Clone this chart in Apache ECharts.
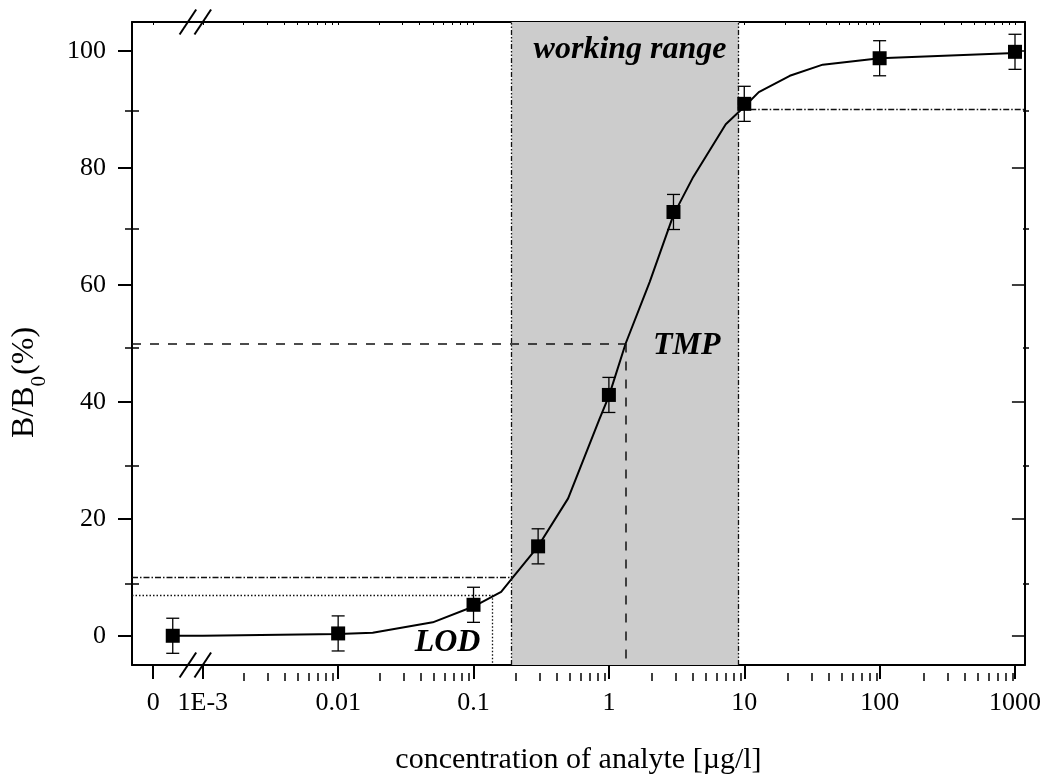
<!DOCTYPE html>
<html><head><meta charset="utf-8">
<script src="https://cdn.jsdelivr.net/npm/echarts@6/dist/echarts.min.js"></script>
<style>html,body{margin:0;padding:0;background:#fff}#c{width:1044px;height:780px}</style>
</head><body><div id="c"></div>
<script>
// ---------- data ----------
const standardConc = [0, 0.01, 0.1, 0.3, 1, 3, 10, 100, 1000];
const standardResp = [0, 0.4, 5.3, 15.3, 41.2, 72.5, 91, 98.8, 99.9];
const standardErr  = [3, 3, 3, 3, 3, 3, 3, 3, 3];
const fitConc = [0, 0.001, 0.01, 0.018, 0.05, 0.1, 0.16, 0.2, 0.3, 0.5, 0.85, 1, 1.33, 2, 3, 4.2, 7.3, 10, 12.8, 21.7, 38, 100, 1000];
const fitResp = [0, 0, 0.3, 0.5, 2.3, 5.0, 7.5, 10.3, 15.3, 23.5, 37, 41, 50, 60.5, 72, 78.5, 87.5, 90.5, 93, 95.8, 97.7, 98.8, 99.7];
const xTickConc   = [0, 0.001, 0.01, 0.1, 1, 10, 100, 1000];
const xTickLabels = ['0', '1E-3', '0.01', '0.1', '1', '10', '100', '1000'];
const yTickValues  = [0, 20, 40, 60, 80, 100];
const yMinorValues = [10, 30, 50, 70, 90];
const LOD_CONC = 0.138, TMP_CONC = 1.334, WR_LOW = 0.191, WR_HIGH = 9.1;
const LOD_LEVEL = 7, WR_LOW_LEVEL = 10, TMP_LEVEL = 50, WR_HIGH_LEVEL = 90;
// broken axis: where the "zero" standard and the "0" tick sit
const ZERO_POINT_POS = 6.0e-4, ZERO_TICK_POS = 4.3e-4;
const X_MIN = 3.0e-4, X_MAX = 1184, Y_MIN = -5, Y_MAX = 105;

const FONT = '"Liberation Serif", "Times New Roman", serif';
const L = (c, z) => Math.log10(c === 0 ? (z || ZERO_POINT_POS) : c);
const xMin = L(X_MIN), xMax = L(X_MAX);

const majorX = xTickConc.map(c => L(c, ZERO_TICK_POS));
const minorX = [];
for (let n = -3; n <= 2; n++) for (let k = 2; k <= 9; k++) minorX.push(Math.log10(k * Math.pow(10, n)));

const chart = echarts.init(document.getElementById('c'), null, {renderer: 'canvas'});
const gridBox = {left: 132, right: 15, top: 22, bottom: 107};
const blk = '#000';

function xAx(grid, pos, extra) {
  return Object.assign({type: 'value', gridIndex: grid, position: pos, min: xMin, max: xMax,
    splitLine: {show: false}, axisLabel: {show: false}, axisLine: {show: false, onZero: false},
    axisTick: {show: false}}, extra);
}
function yAx(grid, pos, extra) {
  return Object.assign({type: 'value', gridIndex: grid, position: pos, min: Y_MIN, max: Y_MAX,
    splitLine: {show: false}, axisLabel: {show: false}, axisLine: {show: false, onZero: false},
    axisTick: {show: false}}, extra);
}

const option = {
  animation: false,
  backgroundColor: '#fff',
  grid: [Object.assign({}, gridBox), Object.assign({}, gridBox), Object.assign({}, gridBox)],
  xAxis: [
    xAx(0, 'bottom', {
      axisLine: {show: true, onZero: false, lineStyle: {color: blk, width: 2}},
      axisTick: {show: true, customValues: majorX, length: 14, lineStyle: {color: blk, width: 2}},
      axisLabel: {show: true, customValues: majorX, margin: 25, color: blk, fontSize: 26, fontFamily: FONT,
        formatter: v => { const i = majorX.findIndex(m => Math.abs(m - v) < 1e-6); return i >= 0 ? xTickLabels[i] : ''; }},
      name: 'concentration of analyte [\u00b5g/l]', nameLocation: 'middle', nameGap: 80,
      nameTextStyle: {color: blk, fontSize: 30, fontFamily: FONT}
    }),
    xAx(0, 'top', {
      axisLine: {show: true, onZero: false, lineStyle: {color: blk, width: 2}},
      axisTick: {show: true, inside: true, customValues: majorX.concat(minorX), length: 3, lineStyle: {color: blk, width: 1}}
    }),
    xAx(1, 'bottom', {axisTick: {show: true, customValues: minorX, length: 8, lineStyle: {color: blk, width: 1.5}}}),
    xAx(2, 'bottom', {})
  ],
  yAxis: [
    yAx(0, 'left', {
      axisLine: {show: true, onZero: false, lineStyle: {color: blk, width: 2}},
      axisTick: {show: true, customValues: yTickValues, length: 14, lineStyle: {color: blk, width: 2}},
      axisLabel: {show: true, customValues: yTickValues, margin: 26, color: blk, fontSize: 26, fontFamily: FONT}
    }),
    yAx(0, 'right', {
      axisLine: {show: true, onZero: false, lineStyle: {color: blk, width: 2}},
      axisTick: {show: true, inside: true, customValues: yTickValues, length: 13, lineStyle: {color: blk, width: 1.5}}
    }),
    yAx(1, 'left', {axisTick: {show: true, customValues: yMinorValues, length: 7, lineStyle: {color: blk, width: 1.5}}}),
    yAx(1, 'right', {axisTick: {show: true, inside: true, customValues: yMinorValues, length: 6, lineStyle: {color: blk, width: 1.5}}}),
    yAx(2, 'left', {axisTick: {show: true, inside: true, customValues: yMinorValues, length: 7, lineStyle: {color: blk, width: 1.5}}})
  ],
  series: [
    { // working range shading + reference lines
      type: 'line', xAxisIndex: 0, yAxisIndex: 0, data: [], z: 1, silent: true,
      markArea: {silent: true, itemStyle: {color: '#cccccc', opacity: 1},
        data: [[{xAxis: L(WR_LOW)}, {xAxis: L(WR_HIGH)}]]},
      markLine: {silent: true, symbol: ['none', 'none'], label: {show: false}, emphasis: {disabled: true},
        lineStyle: {color: blk, width: 1.3},
        data: [
          [{coord: [L(WR_LOW), Y_MIN], lineStyle: {type: [5, 2, 1.5, 2, 1.5, 2], width: 1.3, color: '#111'}}, {coord: [L(WR_LOW), Y_MAX]}],
          [{coord: [L(WR_HIGH), Y_MIN], lineStyle: {type: [5, 2, 1.5, 2, 1.5, 2], width: 1.3, color: '#111'}}, {coord: [L(WR_HIGH), Y_MAX]}],
          [{coord: [xMin, WR_LOW_LEVEL], lineStyle: {type: [6, 2, 1.5, 2], width: 1.3, color: '#111'}}, {coord: [L(WR_LOW), WR_LOW_LEVEL]}],
          [{coord: [L(WR_HIGH), WR_HIGH_LEVEL], lineStyle: {type: [6, 2, 1.5, 2], width: 1.3, color: '#111'}}, {coord: [xMax, WR_HIGH_LEVEL]}],
          [{coord: [xMin, LOD_LEVEL], lineStyle: {type: [1.5, 2], width: 1.3, color: '#111'}}, {coord: [L(LOD_CONC), LOD_LEVEL]}],
          [{coord: [L(LOD_CONC), LOD_LEVEL], lineStyle: {type: [1.5, 2], width: 1.3, color: '#111'}}, {coord: [L(LOD_CONC), Y_MIN]}],
          [{coord: [xMin, TMP_LEVEL], lineStyle: {type: [9, 9], width: 1.5, color: '#111'}}, {coord: [L(TMP_CONC), TMP_LEVEL]}],
          [{coord: [L(TMP_CONC), TMP_LEVEL], lineStyle: {type: [9, 9], width: 1.5, color: '#111'}}, {coord: [L(TMP_CONC), Y_MIN]}]
        ]}
    },
    { // fitted curve
      type: 'line', xAxisIndex: 0, yAxisIndex: 0, z: 3, silent: true,
      data: fitConc.map((c, i) => [L(c), fitResp[i]]),
      showSymbol: false, symbol: 'none', lineStyle: {color: blk, width: 2}
    },
    { // error bars
      type: 'custom', xAxisIndex: 0, yAxisIndex: 0, z: 4, silent: true,
      data: standardConc.map((c, i) => [L(c), standardResp[i], standardErr[i]]),
      renderItem: (params, api) => {
        const x = api.value(0), y = api.value(1), e = api.value(2);
        const t = api.coord([x, y + e]), b = api.coord([x, y - e]);
        const hw = 6.5, st = {stroke: '#000', lineWidth: 1.3};
        return {type: 'group', children: [
          {type: 'line', shape: {x1: t[0], y1: t[1], x2: b[0], y2: b[1]}, style: st},
          {type: 'line', shape: {x1: t[0] - hw, y1: t[1], x2: t[0] + hw, y2: t[1]}, style: st},
          {type: 'line', shape: {x1: b[0] - hw, y1: b[1], x2: b[0] + hw, y2: b[1]}, style: st}
        ]};
      }
    },
    { // standards
      type: 'scatter', xAxisIndex: 0, yAxisIndex: 0, z: 5, silent: true,
      data: standardConc.map((c, i) => [L(c), standardResp[i]]),
      symbol: 'rect', symbolSize: 14, itemStyle: {color: blk, opacity: 1}
    }
  ]
};
chart.setOption(option);

// ---------- annotations positioned through the axes ----------
const px = (logx, y) => chart.convertToPixel({xAxisIndex: 0, yAxisIndex: 0}, [logx, y]);
const annFont = 'bold italic 32px ' + FONT;
const pWR = px(Math.log10(7.4), 100.3);
const pTMP = px(Math.log10(2.12), 49.7);
const pLOD = px(Math.log10(0.1125), -1.16);

// axis break marks
const yBot = px(0, Y_MIN)[1], yTop = px(0, Y_MAX)[1];
const breakCenters = [-3.11, -3.0].map(v => px(v, 0)[0]);
const slashes = [];
[yBot, yTop].forEach(yy => breakCenters.forEach(cx => {
  slashes.push({type: 'line', z: 100, shape: {x1: cx - 8.3, y1: yy + 12.5, x2: cx + 8.3, y2: yy - 12.5},
    style: {stroke: '#000', lineWidth: 2}});
}));

// y axis title with subscript
const mctx = document.createElement('canvas').getContext('2d');
mctx.font = '32px ' + FONT;
const wBB = mctx.measureText('B/B').width;
mctx.font = '21px ' + FONT;
const wSub = mctx.measureText('0').width;

chart.setOption({
  graphic: [
    {type: 'text', z: 100, x: pWR[0], y: pWR[1], style: {text: 'working range', font: annFont, fill: '#000', align: 'right', verticalAlign: 'middle'}},
    {type: 'text', z: 100, x: pTMP[0], y: pTMP[1], style: {text: 'TMP', font: annFont, fill: '#000', align: 'left', verticalAlign: 'middle'}},
    {type: 'text', z: 100, x: pLOD[0], y: pLOD[1], style: {text: 'LOD', font: annFont, fill: '#000', align: 'right', verticalAlign: 'middle'}},
    {type: 'group', x: 35, y: 438, rotation: Math.PI / 2, z: 100, children: [
      {type: 'text', x: 0, y: -10.8, style: {text: 'B/B', font: '32px ' + FONT, fill: '#000', align: 'left', verticalAlign: 'middle'}},
      {type: 'text', x: wBB, y: 12 - 7.1, style: {text: '0', font: '21px ' + FONT, fill: '#000', align: 'left', verticalAlign: 'middle'}},
      {type: 'text', x: wBB + wSub + 1, y: -10.8, style: {text: '(%)', font: '32px ' + FONT, fill: '#000', align: 'left', verticalAlign: 'middle'}}
    ]}
  ].concat(slashes)
});
</script>
</body></html>
